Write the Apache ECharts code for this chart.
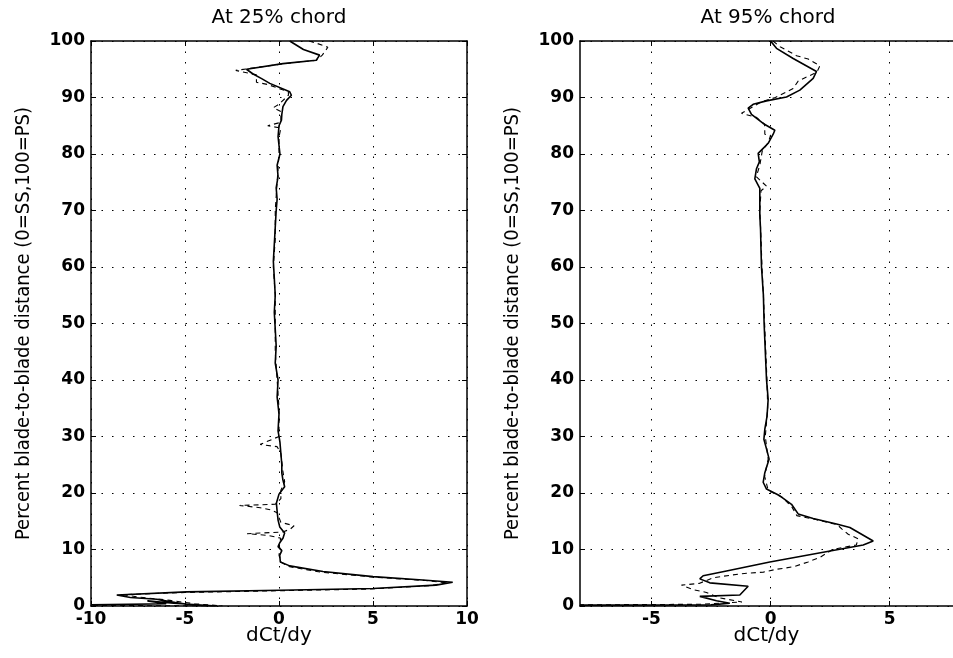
<!DOCTYPE html>
<html><head><meta charset="utf-8">
<script src="https://cdn.jsdelivr.net/npm/echarts@6/dist/echarts.min.js"></script>
<style>html,body{margin:0;padding:0;background:#fff}#c{width:953px;height:658px}</style>
</head><body><div id="c"></div>
<script>
// ---- Data ----
const titles = ['At 25% chord', 'At 95% chord'];
const xName = 'dCt/dy';
const yName = 'Percent blade-to-blade distance (0=SS,100=PS)';
const yTicks = [0,10,20,30,40,50,60,70,80,90,100];
const leftXTicks = [-10,-5,0,5,10];
const rightXTicks = [-5,0,5];
const leftXRange = [-10, 10];
const rightXRange = [-8, 7.66];   // right edge of the panel is cut by the picture border

// Left panel (25% chord), solid
const l25SolidPct = [100,98.5,97.5,96.6,96.0,95.0,94.2,93.3,92.5,91.0,90.4,89.5,88.4,87.0,86.0,85.0,83.1,81.5,80,78,76,74,72,70,67,64,61,58,55,52,49,46,43,40,37,34,31,29,27,25,23.5,22.3,21.1,19.8,18.2,16.8,15.2,14,12.9,12,11.2,10.5,9.8,9.0,7.8,7.1,6.1,5.2,4.6,4.2,3.7,3.1,2.8,2.5,1.95,1.5,1.2,1.0,0.6,0.2,0.0,0.5,0.9,0.4,0.2];
const l25SolidDct = [0.57,1.3,2.16,1.98,0.21,-1.73,-1.4,-0.9,-0.49,0.57,0.66,0.4,0.21,0.15,0.13,0.0,-0.05,0.0,0.05,-0.1,-0.05,-0.15,-0.1,-0.15,-0.2,-0.25,-0.3,-0.25,-0.2,-0.25,-0.2,-0.15,-0.2,-0.05,-0.1,0.0,-0.05,0.05,0.1,0.15,0.15,0.21,0.3,0.0,-0.14,-0.1,-0.05,0.04,0.3,0.21,0.04,-0.05,0.15,0.04,0.07,0.57,2.34,5.0,7.64,9.24,8.35,5.0,0.04,-4.92,-8.63,-7.9,-6.5,-6.2,-5.5,-4.7,-3.3,-5.6,-7.0,-6.0,-10];
// Left panel, dashed
const l25DashPct = [100,99.6,98.9,97.5,96.6,96.0,94.8,94.0,92.7,92.3,91.0,90.4,88.8,88.2,87.5,85.6,85.0,84.6,83,80,75,70,65,60,55,50,45,40,35,30,28.6,28.2,27,24,22,20.5,19,18,17.8,17.4,17.0,16.5,14.8,14.2,13.6,13.1,12.8,12.5,12.0,11,10,9,7.8,7.0,6.0,5.1,4.5,4.1,3.6,3.0,2.7,2.4,2.0,1.6,1.0,0.4,0.0,0.1];
const l25DashDct = [1.6,2.0,2.6,2.3,2.0,0.3,-2.3,-1.2,-1.2,-0.6,0.5,0.5,0.0,-0.3,0.1,0.1,-0.6,0.1,0.0,0.0,-0.1,-0.2,-0.2,-0.3,-0.2,-0.2,-0.2,-0.1,0.0,0.0,-1.0,-0.1,0.1,0.2,0.3,0.1,0.1,-0.2,-2.1,-1.0,-0.4,-0.1,0.1,0.8,0.6,0.2,-1.7,-0.6,0.1,0.0,0.05,0.0,0.1,0.5,2.2,5.1,7.8,9.0,8.0,4.8,0.0,-5.0,-8.3,-7.5,-5.8,-4.5,-3.0,-10];

// Right panel (95% chord), solid
const r95SolidPct = [100,99.8,98.7,96.9,94.6,93.4,91.3,90.1,89.4,88.8,88.1,87.0,85.4,84.2,83.5,81.9,81.0,80.1,78.6,77.4,75.6,73.9,71.5,69.1,66.7,63,60,55,50,45,40.1,36.6,33.5,31.3,29.5,27.5,26,23.6,21.9,20.7,19.5,18.0,16.3,15.5,14.5,13.9,11.5,10.8,9.5,7.8,6.2,5.35,4.8,4.1,3.5,1.94,1.7,0.94,0.5,0.2,0.15];
const r95SolidDct = [0.0,0.04,0.25,0.95,1.93,1.79,1.23,0.67,-0.17,-0.73,-0.94,-0.8,-0.31,0.18,0.11,-0.1,-0.31,-0.52,-0.47,-0.59,-0.66,-0.45,-0.45,-0.45,-0.42,-0.4,-0.38,-0.3,-0.27,-0.22,-0.17,-0.1,-0.15,-0.24,-0.28,-0.15,-0.06,-0.24,-0.31,-0.17,0.39,0.88,1.16,1.79,2.77,3.33,4.31,3.89,2.21,-0.03,-1.85,-2.83,-2.97,-2.55,-0.94,-1.29,-2.97,-2.27,-1.71,-2.5,-8];
// Right panel, dashed
const r95DashPct = [100,99,97.4,96.8,95.6,94.5,92.9,91.6,90.4,90.0,89.2,87.2,86.5,85.3,83.5,83.3,82.0,80.5,78,76,74.3,73.5,70,65,60,55,50,45,40,35,30,26,23,20.5,19.2,17.5,16.0,15.3,14.4,13.6,12.7,11.9,10.8,10.0,8.6,7.8,7.0,6.7,6.5,6.0,5.8,5.5,5.0,4.0,3.7,2.9,2.4,1.5,0.7,0.3,0.2];
const r95DashDct = [0.1,0.4,1.09,1.58,2.07,1.95,1.16,0.95,0.4,0.2,-0.4,-1.22,-0.6,-0.25,-0.24,0.0,-0.1,-0.35,-0.45,-0.6,-0.17,-0.4,-0.45,-0.4,-0.36,-0.3,-0.25,-0.2,-0.15,-0.12,-0.22,-0.1,-0.25,-0.1,0.5,0.9,1.1,1.9,2.8,3.0,3.26,3.68,3.6,2.6,2.07,1.58,1.0,0.6,0.24,-0.3,-1.0,-1.6,-2.4,-3.0,-3.74,-3.25,-2.69,-2.2,-1.2,-3.0,-8];

// ---- Build ----
const pairs = (xs, ys) => xs.map((x, i) => [x, ys[i]]);
const FONT = "'DejaVu Sans', 'Liberation Sans', Arial, sans-serif";
const NARROW = "'DejaVu Sans Condensed', 'Liberation Sans Narrow', 'Liberation Sans', sans-serif";
const axisLine = {show: true, onZero: false, lineStyle: {color: '#000', width: 1.5}};
const tick = {show: true, inside: true, length: 5, lineStyle: {color: '#000', width: 1}};
const grid = {show: true, lineStyle: {color: '#000', width: 1, type: [1.5, 9]}};
const lbl = {color: '#000', fontSize: 17, fontWeight: 'bold', fontFamily: FONT};

function xBottom(gi, range, ticks) {
  return {type: 'value', gridIndex: gi, position: 'bottom', min: range[0], max: range[1],
    axisLine, axisTick: Object.assign({customValues: ticks}, tick),
    axisLabel: Object.assign({customValues: ticks, margin: 5}, lbl),
    splitLine: grid,
    name: xName, nameLocation: 'middle', nameGap: 20, nameMoveOverlap: false,
    nameTextStyle: {color: '#000', fontSize: 20, fontFamily: FONT}};
}
function xTop(gi, range, ticks) {
  return {type: 'value', gridIndex: gi, position: 'top', min: range[0], max: range[1],
    axisLine, axisTick: Object.assign({customValues: ticks}, tick),
    axisLabel: {show: false, customValues: ticks}, splitLine: {show: false}};
}
function yLeft(gi, gap) {
  return {type: 'value', gridIndex: gi, position: 'left', min: 0, max: 100, interval: 10,
    axisLine, axisTick: tick, axisLabel: Object.assign({margin: 6}, lbl), splitLine: grid,
    name: yName, nameLocation: 'middle', nameRotate: 90, nameGap: gap, nameMoveOverlap: false,
    nameTextStyle: {color: '#000', fontSize: 20, fontFamily: NARROW}};
}
function yRight(gi, showLine) {
  return {type: 'value', gridIndex: gi, position: 'right', min: 0, max: 100, interval: 10,
    axisLine: Object.assign({}, axisLine, {show: showLine}), axisTick: Object.assign({}, tick, {show: showLine}),
    axisLabel: {show: false}, splitLine: {show: false}};
}
function ser(xi, yi, data, dashed) {
  return {type: 'line', xAxisIndex: xi, yAxisIndex: yi, data, showSymbol: false, symbol: 'none',
    smooth: false, clip: true, silent: true,
    lineStyle: {color: '#000', width: dashed ? 1.1 : 1.6, type: dashed ? [5, 4] : 'solid'}, z: dashed ? 3 : 4};
}

const chart = echarts.init(document.getElementById('c'), null, {renderer: 'canvas'});
chart.setOption({
  animation: false,
  backgroundColor: '#fff',
  title: [
    {text: titles[0], left: 274, top: 3, textAlign: 'center', textStyle: {color: '#000', fontSize: 20, fontWeight: 'normal', fontFamily: FONT}},
    {text: titles[1], left: 763, top: 3, textAlign: 'center', textStyle: {color: '#000', fontSize: 20, fontWeight: 'normal', fontFamily: FONT}}
  ],
  grid: [
    {left: 91, top: 41, width: 376, height: 565, containLabel: false},
    {left: 580, top: 41, width: 373, height: 565, containLabel: false}
  ],
  xAxis: [
    xBottom(0, leftXRange, leftXTicks),
    xTop(0, leftXRange, leftXTicks),
    xBottom(1, rightXRange, rightXTicks),
    xTop(1, rightXRange, rightXTicks)
  ],
  yAxis: [yLeft(0, 57), yRight(0, true), yLeft(1, 57), yRight(1, false)],
  series: [
    ser(0, 0, pairs(l25DashDct, l25DashPct), true),
    ser(0, 0, pairs(l25SolidDct, l25SolidPct), false),
    ser(2, 2, pairs(r95DashDct, r95DashPct), true),
    ser(2, 2, pairs(r95SolidDct, r95SolidPct), false)
  ]
});
</script></body></html>
